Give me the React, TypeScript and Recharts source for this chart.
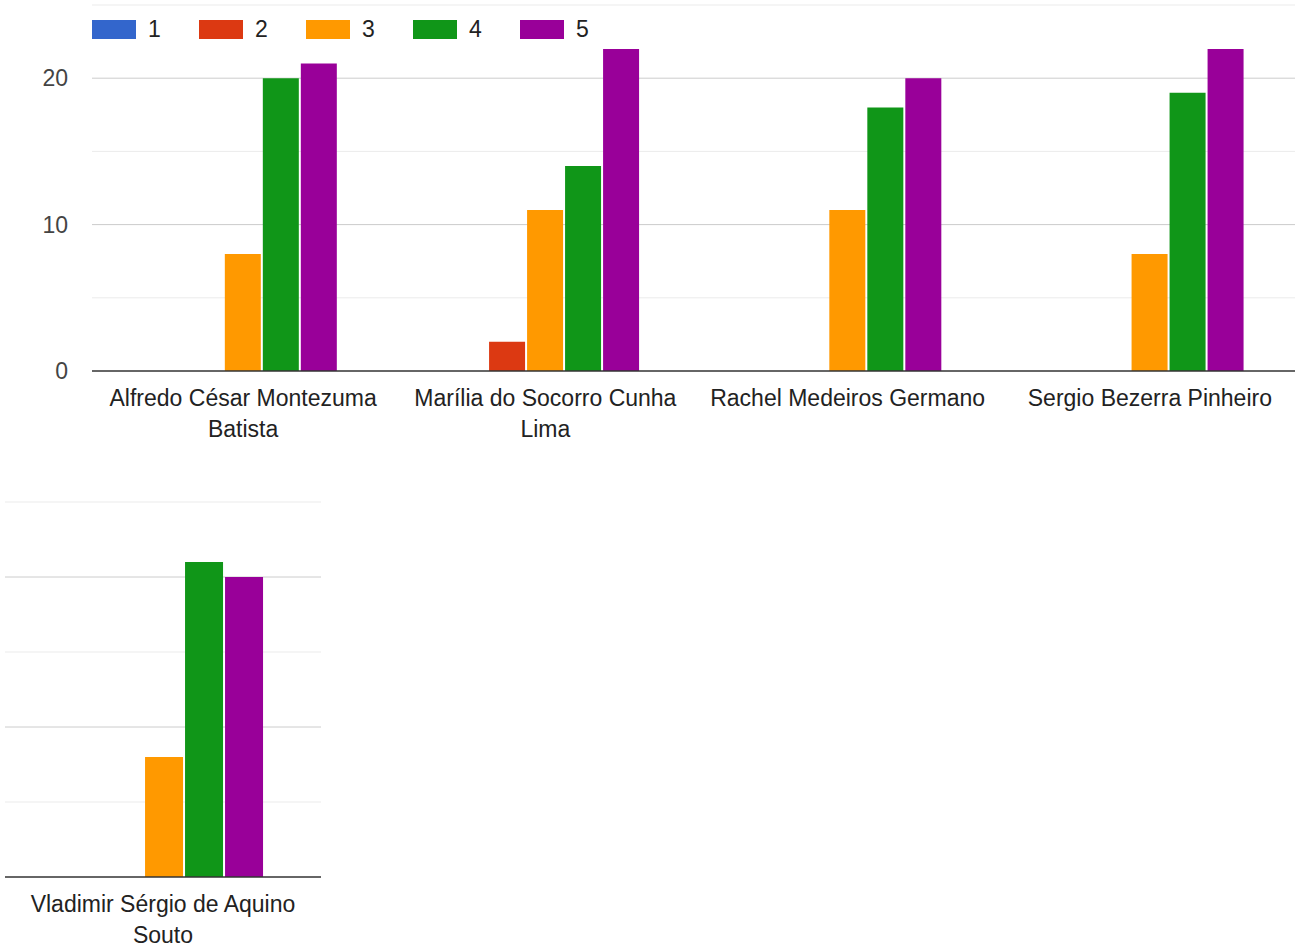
import React from 'react';
import { BarChart, Bar, XAxis, YAxis, CartesianGrid, Legend } from 'recharts';

const topCategories = [
  'Alfredo César Montezuma Batista',
  'Marília do Socorro Cunha Lima',
  'Rachel Medeiros Germano',
  'Sergio Bezerra Pinheiro',
];
const bottomCategories = ['Vladimir Sérgio de Aquino Souto'];

// values per category: top four then bottom one
const rating1 = [0, 0, 0, 0, 0];
const rating2 = [0, 2, 0, 0, 0];
const rating3 = [8, 11, 11, 8, 8];
const rating4 = [20, 14, 18, 19, 21];
const rating5 = [21, 22, 20, 22, 20];

const seriesNames = ['1', '2', '3', '4', '5'];
const seriesColors = ['#3366cc', '#dc3912', '#ff9900', '#109618', '#990099'];
const yTicks = [0, 5, 10, 15, 20, 25];
const yTickLabels = [0, 10, 20];
const majorGrid = [10, 20];
const minorGrid = [5, 15, 25];

const allSeries = [rating1, rating2, rating3, rating4, rating5];
const FONT = '"Liberation Sans", Arial, sans-serif';
const FONT_SIZE = 23;

const buildRows = (cats: string[], startIdx: number) =>
  cats.map((name, i) => {
    const row: Record<string, any> = { name };
    seriesNames.forEach((s, k) => {
      row['s' + s] = allSeries[k][startIdx + i];
    });
    return row;
  });

const topData = buildRows(topCategories, 0);
const bottomData = buildRows(bottomCategories, topCategories.length);

let measureCtx: CanvasRenderingContext2D | null = null;
const measure = (s: string) => {
  if (!measureCtx) {
    const c = document.createElement('canvas');
    measureCtx = c.getContext('2d');
  }
  if (!measureCtx) return s.length * FONT_SIZE * 0.5;
  measureCtx.font = `${FONT_SIZE}px ${FONT}`;
  return measureCtx.measureText(s).width;
};

const wrap = (s: string, maxW: number) => {
  const words = s.split(' ');
  const lines: string[] = [];
  let cur = '';
  words.forEach((w) => {
    const t = cur ? cur + ' ' + w : w;
    if (cur && measure(t) > maxW) {
      lines.push(cur);
      cur = w;
    } else {
      cur = t;
    }
  });
  if (cur) lines.push(cur);
  return lines;
};

const XTick = (props: any) => {
  const { x, y, payload } = props;
  const lines = wrap(String(payload.value), 295);
  return (
    <text
      x={x}
      y={y + 19}
      textAnchor="middle"
      fontSize={FONT_SIZE}
      fontFamily={FONT}
      fill="#222"
    >
      {lines.map((l, i) => (
        <tspan key={i} x={x} dy={i === 0 ? '0.71em' : 31}>
          {l}
        </tspan>
      ))}
    </text>
  );
};

const YTick = (props: any) => {
  const { x, y, payload } = props;
  if (!yTickLabels.includes(payload.value)) return <g />;
  return (
    <text x={x} y={y} dy="0.36em" textAnchor="end" fontSize={FONT_SIZE} fontFamily={FONT} fill="#444">
      {payload.value}
    </text>
  );
};

const LegendContent = () => (
  <div style={{ display: 'flex', fontFamily: FONT }}>
    {seriesNames.map((n, i) => (
      <div key={n} style={{ width: 107, display: 'flex', alignItems: 'center', height: 20 }}>
        <span style={{ display: 'inline-block', width: 44, height: 19, background: seriesColors[i] }} />
        <span style={{ marginLeft: 12, fontSize: FONT_SIZE, lineHeight: '20px', color: '#222' }}>{n}</span>
      </div>
    ))}
  </div>
);

const renderBars = () =>
  seriesNames.map((s, i) => (
    <Bar key={s} dataKey={'s' + s} name={s} fill={seriesColors[i]} isAnimationActive={false} />
  ));

export default function App() {
  return (
    <div
      style={{
        position: 'fixed',
        left: 0,
        top: 0,
        width: 1295,
        height: 951,
        overflow: 'hidden',
        background: '#fff',
      }}
    >
      <div style={{ position: 'absolute', left: 0, top: 0 }}>
        <BarChart
          width={1310}
          height={450}
          data={topData}
          margin={{ top: 5, right: 9, bottom: 0, left: 0 }}
          barCategoryGap="18.8%"
          barGap={2}
        >
          <CartesianGrid vertical={false} horizontalValues={minorGrid} stroke="#ebebeb" />
          <CartesianGrid vertical={false} horizontalValues={majorGrid} stroke="#cccccc" />
          <XAxis
            dataKey="name"
            height={79}
            tickLine={false}
            tickSize={0}
            tickMargin={0}
            axisLine={{ stroke: '#333', strokeWidth: 1.5 }}
            tick={<XTick />}
            interval={0}
          />
          <YAxis
            width={92}
            domain={[0, 25]}
            ticks={yTicks}
            axisLine={false}
            tickLine={false}
            tickSize={0}
            tickMargin={24}
            tick={<YTick />}
            interval={0}
          />
          <Legend
            layout="horizontal"
            verticalAlign="middle"
            align="center"
            content={<LegendContent />}
            wrapperStyle={{ top: 19, left: 92, width: 560, height: 20 }}
          />
          {renderBars()}
        </BarChart>
      </div>
      <div style={{ position: 'absolute', left: 0, top: 480 }}>
        <BarChart
          width={340}
          height={471}
          data={bottomData}
          margin={{ top: 22, right: 19, bottom: 0, left: 5 }}
          barCategoryGap="19%"
          barGap={2}
        >
          <CartesianGrid vertical={false} horizontalValues={minorGrid} stroke="#ebebeb" />
          <CartesianGrid vertical={false} horizontalValues={majorGrid} stroke="#cccccc" />
          <XAxis
            dataKey="name"
            height={74}
            tickLine={false}
            tickSize={0}
            tickMargin={0}
            axisLine={{ stroke: '#333', strokeWidth: 1.5 }}
            tick={<XTick />}
            interval={0}
          />
          <YAxis hide width={0} domain={[0, 25]} ticks={yTicks} />
          {renderBars()}
        </BarChart>
      </div>
    </div>
  );
}
